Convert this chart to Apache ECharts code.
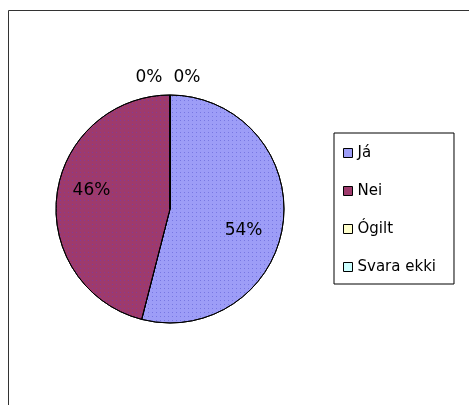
<!DOCTYPE html>
<html>
<head>
<meta charset="utf-8">
<script src="https://cdn.jsdelivr.net/npm/echarts@6/dist/echarts.min.js"></script>
<style>
html,body{margin:0;padding:0;background:#fff;}
#c{width:469px;height:405px;}
</style>
</head>
<body>
<div id="c"></div>
<script>
const categories = ['Já', 'Nei', 'Ógilt', 'Svara ekki'];
const values = [54, 46, 0, 0];
const percentLabels = ['54%', '46%', '0%', '0%'];

const colors = ['#9d9df7', '#9e3a6c', '#ffffcc', '#ccffff'];
const dotColors = ['rgba(110,110,220,0.8)', 'rgba(120,60,170,0.7)', 'rgba(0,0,0,0)', 'rgba(0,0,0,0)'];
const labelOffsets = [[14, 14], [-19, -11], [-21, -71], [17, -71]];

const chart = echarts.init(document.getElementById('c'), null, {renderer: 'canvas'});
chart.setOption({
  animation: false,
  graphic: [{
    type: 'rect',
    shape: {x: 8.5, y: 10.5, width: 480, height: 420},
    style: {fill: 'none', stroke: '#333', lineWidth: 1}
  }],
  legend: {
    orient: 'vertical',
    left: 334,
    top: 133,
    padding: [12, 18, 9, 9],
    itemGap: 22,
    itemWidth: 9,
    itemHeight: 9,
    icon: 'rect',
    borderColor: '#000',
    borderWidth: 1,
    itemStyle: {borderColor: '#000', borderWidth: 1, decal: 'none'},
    textStyle: {fontFamily: 'DejaVu Sans', fontSize: 15, color: '#000', lineHeight: 16},
    data: categories
  },
  series: [{
    type: 'pie',
    center: [170, 209],
    radius: [0, 114],
    startAngle: 90,
    clockwise: true,
    avoidLabelOverlap: false,
    itemStyle: {borderColor: '#000', borderWidth: 1},
    labelLine: {show: false},
    data: categories.map((name, i) => ({
      name: name,
      value: values[i],
      itemStyle: {
        color: colors[i],
        decal: {symbol: 'rect', symbolSize: 1, dashArrayX: [1, 3], dashArrayY: [1, 3], rotation: 0, color: dotColors[i]}
      },
      label: {
        show: true,
        position: 'inside',
        formatter: percentLabels[i],
        offset: labelOffsets[i],
        fontFamily: 'DejaVu Sans',
        fontSize: 17,
        color: '#000'
      }
    }))
  }]
});
</script>
</body>
</html>
